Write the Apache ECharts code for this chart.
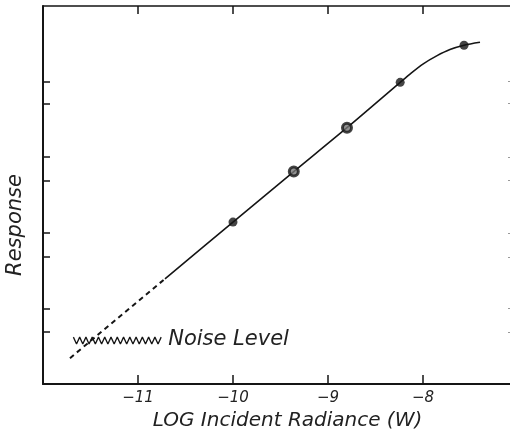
<!DOCTYPE html>
<html>
<head>
<meta charset="utf-8">
<script src="https://cdn.jsdelivr.net/npm/echarts@6/dist/echarts.min.js"></script>
<style>html,body{margin:0;padding:0;background:#fff;}#c{width:510px;height:433px;}</style>
</head>
<body>
<div id="c"></div>
<script>
// Tick positions / labels
const xTicks = [-11, -10, -9, -8];
const xTickLabels = {'-11': '\u221211', '-10': '\u221210', '-9': '\u22129', '-8': '\u22128'};
const yTicks = [0.69, 1, 1.68, 2, 2.69, 3, 3.71, 4];
// Measured points (LOG radiance, response)
const measured = [[-10.0, 2.142], [-9.36, 2.81], [-8.80, 3.39], [-8.24, 3.99], [-7.568, 4.481]];
const hollowIdx = [1, 2];
// Solid response curve
const solidCurve = [[-10.716, 1.392], [-10.0, 2.142], [-9.36, 2.81], [-8.80, 3.39], [-8.24, 3.99],
  [-8.137, 4.10], [-7.997, 4.235], [-7.856, 4.340], [-7.716, 4.424], [-7.568, 4.481], [-7.40, 4.52]];
// Dashed extrapolation
const dashedCurve = [[-11.716, 0.342], [-10.716, 1.392]];
// Noise level zigzag
const noiseX = [-11.68, -11.647, -11.614, -11.581, -11.548, -11.515, -11.482, -11.449, -11.416, -11.383,
  -11.35, -11.317, -11.284, -11.251, -11.218, -11.185, -11.152, -11.119, -11.086, -11.053,
  -11.02, -10.987, -10.954, -10.921, -10.888, -10.855, -10.822, -10.789, -10.756];
const noiseY = [0.62, 0.53, 0.62, 0.53, 0.62, 0.53, 0.62, 0.53, 0.62, 0.53,
  0.62, 0.53, 0.62, 0.53, 0.62, 0.53, 0.62, 0.53, 0.62, 0.53,
  0.62, 0.53, 0.62, 0.53, 0.62, 0.53, 0.62, 0.53, 0.62];
const noiseLabel = 'Noise Level';
const xTitle = 'LOG Incident Radiance (W)';
const yTitle = 'Response';

const FONT = 'DejaVu Sans';
const INK = '#151515';

const chart = echarts.init(document.getElementById('c'));
chart.setOption({
  animation: false,
  grid: {left: 43, top: 6, bottom: 49, width: 469, outerBoundsMode: 'none', containLabel: false},
  xAxis: [{
    type: 'value', min: -12, max: -7.063, position: 'bottom',
    splitLine: {show: false},
    axisLine: {onZero: false, lineStyle: {color: INK, width: 2}},
    axisTick: {inside: true, length: 9, lineStyle: {color: INK, width: 1.5}, customValues: xTicks},
    axisLabel: {customValues: xTicks, formatter: v => xTickLabels[String(v)], fontFamily: FONT, fontStyle: 'italic',
      fontSize: 15, color: '#222', margin: 7},
    name: xTitle, nameLocation: 'middle', nameGap: 27,
    nameTextStyle: {fontFamily: FONT, fontStyle: 'italic', fontSize: 20, color: '#222', padding: [0, 0, 0, 20]}
  }, {
    type: 'value', min: -12, max: -7.063, position: 'top',
    splitLine: {show: false},
    axisLine: {onZero: false, lineStyle: {color: INK, width: 1.5}},
    axisTick: {inside: true, length: 8, lineStyle: {color: INK, width: 1.5}, customValues: xTicks},
    axisLabel: {show: false}
  }],
  yAxis: [{
    type: 'value', min: 0, max: 5, position: 'left',
    splitLine: {show: false},
    axisLine: {onZero: false, lineStyle: {color: INK, width: 2}},
    axisTick: {inside: true, length: 7, lineStyle: {color: INK, width: 1.5}, customValues: yTicks},
    axisLabel: {show: false},
    name: yTitle, nameLocation: 'middle', nameGap: 17, nameRotate: 90,
    nameTextStyle: {fontFamily: FONT, fontStyle: 'italic', fontSize: 21, color: '#222', padding: [0, 60, 0, 0]}
  }, {
    type: 'value', min: 0, max: 5, position: 'right',
    splitLine: {show: false},
    axisLine: {show: false, onZero: false},
    axisTick: {show: true, inside: true, length: 4, lineStyle: {color: '#999', width: 1}, customValues: yTicks},
    axisLabel: {show: false}
  }],
  series: [{
    type: 'line', data: dashedCurve, showSymbol: false, symbol: 'none',
    lineStyle: {color: INK, width: 2, type: [5, 4]}
  }, {
    type: 'line', data: solidCurve, showSymbol: false, symbol: 'none', smooth: 0.3,
    lineStyle: {color: INK, width: 1.6}
  }, {
    type: 'line', data: noiseX.map((x, i) => [x, noiseY[i]]), showSymbol: false, symbol: 'none',
    lineStyle: {color: INK, width: 1.3},
    endLabel: {show: true, formatter: noiseLabel, fontFamily: FONT, fontStyle: 'italic', fontSize: 21,
      color: '#222', distance: 7, offset: [0, 2]}
  }, {
    type: 'scatter', symbolSize: 9,
    data: measured.map((p, i) => hollowIdx.includes(i)
      ? {value: p, itemStyle: {color: '#777', borderColor: INK, borderWidth: 3}}
      : {value: p, itemStyle: {color: INK}}),
    z: 5
  }]
});
</script>
</body>
</html>
